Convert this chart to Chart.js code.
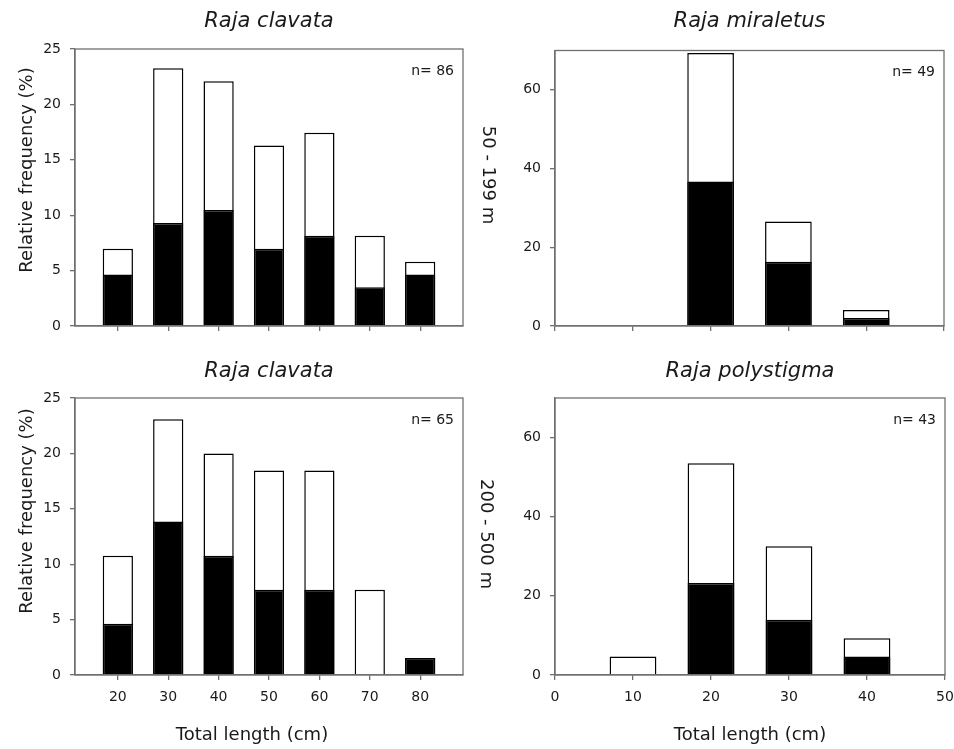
<!DOCTYPE html>
<html>
<head>
<meta charset="utf-8">
<title>Raja length frequencies by depth</title>
<script src="https://cdn.jsdelivr.net/npm/chart.js@4.4.1/dist/chart.umd.min.js"></script>
<style>
  body { margin: 0; background: #fff; }
  #figure { position: relative; width: 954px; height: 749px; }
  #figure canvas { position: absolute; }
  #tl { left: 0; top: 0; }
  #tr { left: 477px; top: 0; }
  #bl { left: 0; top: 350px; }
  #br { left: 477px; top: 350px; }
</style>
</head>
<body>
<div id="figure">
  <canvas id="tl" width="477" height="350"></canvas>
  <canvas id="tr" width="477" height="350"></canvas>
  <canvas id="bl" width="477" height="399"></canvas>
  <canvas id="br" width="477" height="399"></canvas>
</div>
<script>
// length classes (cm)
const clavataLengths = [20, 30, 40, 50, 60, 70, 80];
const smallLengths = [10, 20, 30, 40];

// relative frequency (%), 50 - 199 m
const clavataShallowTotal = [6.98, 23.26, 22.09, 16.28, 17.44, 8.14, 5.81];
const clavataShallowBlack = [4.65, 9.30, 10.47, 6.98, 8.14, 3.49, 4.65];
const miraletusTotal = [null, 69.39, 26.53, 4.08];
const miraletusBlack = [null, 36.73, 16.33, 2.04];

// relative frequency (%), 200 - 500 m
const clavataDeepTotal = [10.77, 23.08, 20.00, 18.46, 18.46, 7.69, 1.54];
const clavataDeepBlack = [4.62, 13.85, 10.77, 7.69, 7.69, null, 1.54];
const polystigmaTotal = [4.65, 53.49, 32.56, 9.30];
const polystigmaBlack = [null, 23.26, 13.95, 4.65];

// tick labels
const clavataXTicks = [20, 30, 40, 50, 60, 70, 80];
const clavataYTicks = [0, 5, 10, 15, 20, 25];
const smallXTicks = [0, 10, 20, 30, 40, 50];
const smallYTicks = [0, 20, 40, 60];

const INK = '#1a1a1a';
const AXIS = '#707070';
const FONT = 'DejaVu Sans';

// box round the plot area, sample size and free labels
const panelText = {
  id: 'panelText',
  afterDraw(chart, args, opts) {
    const ctx = chart.ctx;
    const a = chart.chartArea;
    ctx.save();
    ctx.strokeStyle = AXIS;
    ctx.lineWidth = 1.3;
    ctx.strokeRect(a.left, a.top, a.right - a.left, a.bottom - a.top);

    ctx.fillStyle = INK;
    ctx.textBaseline = 'middle';
    ctx.font = '14px "' + FONT + '"';
    ctx.textAlign = 'right';
    ctx.fillText(opts.n, a.right - 9, a.top + 22);

    ctx.textAlign = 'center';
    ctx.font = '18px "' + FONT + '"';
    (opts.items || []).forEach(it => {
      ctx.save();
      ctx.translate(it.x, it.y);
      ctx.rotate(it.rot || 0);
      ctx.fillText(it.text, 0, 0);
      ctx.restore();
    });
    ctx.restore();
  }
};

function panel(id, p) {
  const pts = vals => p.lengths.map((x, i) => ({ x: x, y: vals[i] }));
  const tickFont = { family: FONT, size: 14 };

  new Chart(document.getElementById(id), {
    type: 'bar',
    data: {
      datasets: [
        { data: pts(p.black), backgroundColor: '#000', borderColor: '#000', borderWidth: 1.5 },
        { data: pts(p.total), backgroundColor: '#fff', borderColor: '#000', borderWidth: 1.5 }
      ]
    },
    options: {
      responsive: false,
      animation: false,
      datasets: { bar: { grouped: false, barPercentage: 0.6, categoryPercentage: 1 } },
      layout: { padding: { right: p.padRight } },
      scales: {
        x: {
          type: 'linear',
          min: p.xMin,
          max: p.xMax,
          offset: false,
          afterBuildTicks: s => { s.ticks = p.xTicks.map(v => ({ value: v })); },
          afterFit: s => {
            s.height = p.xHeight;
            // end labels may hang past the plot edge, keep the plot size fixed
            s.paddingLeft = 0;
            s.paddingRight = 0;
          },
          grid: { offset: false, drawOnChartArea: false, tickLength: 5, color: AXIS, lineWidth: 1.3 },
          border: { color: AXIS, width: 1.3 },
          ticks: { display: p.xLabels, padding: 9, color: INK, font: tickFont, maxRotation: 0 }
        },
        y: {
          min: 0,
          max: p.yMax,
          afterBuildTicks: s => { s.ticks = p.yTicks.map(v => ({ value: v })); },
          afterFit: s => { s.width = p.yWidth; },
          grid: { drawOnChartArea: false, tickLength: 5, color: AXIS, lineWidth: 1.3 },
          border: { color: AXIS, width: 1.3 },
          ticks: { padding: 9, color: INK, font: tickFont }
        }
      },
      plugins: {
        legend: { display: false },
        tooltip: { enabled: false },
        title: {
          display: true,
          text: p.title,
          fullSize: false,
          color: INK,
          font: { family: FONT, size: 21, style: 'italic', weight: 'normal' },
          padding: p.titlePad
        },
        panelText: { n: p.n, items: p.items }
      }
    },
    plugins: [panelText]
  });
}

const yTitle = 'Relative frequency (%)';
const xTitle = 'Total length (cm)';

panel('tl', {
  title: 'Raja clavata', n: 'n= 86',
  lengths: clavataLengths, total: clavataShallowTotal, black: clavataShallowBlack,
  xMin: 11.5, xMax: 88.5, xTicks: clavataXTicks, xLabels: false,
  yMax: 25, yTicks: clavataYTicks,
  xHeight: 24, yWidth: 75, padRight: 14,
  titlePad: { top: 9.4, bottom: 14.4 },
  items: [{ text: yTitle, x: 27, y: 170, rot: -Math.PI / 2 }]
});

panel('tr', {
  title: 'Raja miraletus', n: 'n= 49',
  lengths: smallLengths, total: miraletusTotal, black: miraletusBlack,
  xMin: 0, xMax: 50, xTicks: smallXTicks, xLabels: false,
  yMax: 70, yTicks: smallYTicks,
  xHeight: 24, yWidth: 78, padRight: 10,
  titlePad: { top: 9, bottom: 16.3 },
  items: [{ text: '50 - 199 m', x: 11, y: 175, rot: Math.PI / 2 }]
});

panel('bl', {
  title: 'Raja clavata', n: 'n= 65',
  lengths: clavataLengths, total: clavataDeepTotal, black: clavataDeepBlack,
  xMin: 11.5, xMax: 88.5, xTicks: clavataXTicks, xLabels: true,
  yMax: 25, yTicks: clavataYTicks,
  xHeight: 74, yWidth: 75, padRight: 14,
  titlePad: { top: 9.4, bottom: 13.4 },
  items: [
    { text: yTitle, x: 27, y: 161, rot: -Math.PI / 2 },
    { text: xTitle, x: 252, y: 385 }
  ]
});

panel('br', {
  title: 'Raja polystigma', n: 'n= 43',
  lengths: smallLengths, total: polystigmaTotal, black: polystigmaBlack,
  xMin: 0, xMax: 50, xTicks: smallXTicks, xLabels: true,
  yMax: 70, yTicks: smallYTicks,
  xHeight: 74, yWidth: 78, padRight: 9,
  titlePad: { top: 9.4, bottom: 13.4 },
  items: [
    { text: '200 - 500 m', x: 9, y: 184, rot: Math.PI / 2 },
    { text: xTitle, x: 273, y: 385 }
  ]
});
</script>
</body>
</html>
